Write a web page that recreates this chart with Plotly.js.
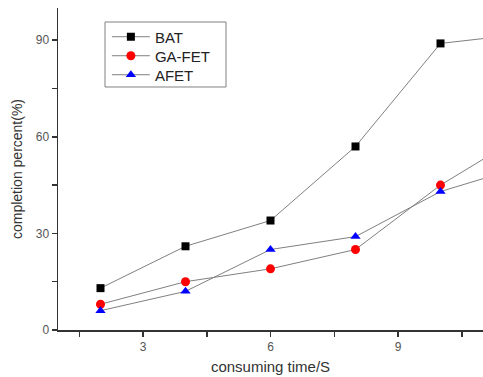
<!DOCTYPE html>
<html>
<head>
<meta charset="utf-8">
<script src="https://cdn.plot.ly/plotly-3.0.1.min.js"></script>
<style>html,body{margin:0;padding:0;background:#fff;}#chart{width:483px;height:377px;}</style>
</head>
<body>
<div id="chart"></div>
<script>
const xValues = [2, 4, 6, 8, 10, 12];
const batValues = [13, 26, 34, 57, 89, 92];
const gaFetValues = [8, 15, 19, 25, 45, 61];
const afetValues = [6, 12, 25, 29, 43, 51];
const seriesNames = ["BAT", "GA-FET", "AFET"];
const xTickVals = [3, 6, 9];
const yTickVals = [0, 30, 60, 90];

const lineStyle = {color: "#808080", width: 1};
const traces = [
  {x: xValues, y: batValues, name: seriesNames[0], mode: "lines+markers", line: lineStyle, legend: "legend",
   marker: {symbol: "square", size: 8, color: "#000000"}},
  {x: xValues, y: gaFetValues, name: seriesNames[1], mode: "lines+markers", line: lineStyle, legend: "legend2",
   marker: {symbol: "circle", size: 9, color: "#ff0000"}},
  {x: xValues, y: afetValues, name: seriesNames[2], mode: "lines+markers", line: lineStyle, legend: "legend3",
   marker: {symbol: "triangle-up", size: 9, color: "#0000ff"}}
];

const legendFont = {family: "Liberation Sans, Arial, sans-serif", size: 15, color: "#222"};
function legendAt(yPaper) {
  return {x: 0.115, y: yPaper, xanchor: "left", yanchor: "middle", borderwidth: 0,
    bgcolor: "rgba(0,0,0,0)", itemwidth: 38, font: legendFont};
}
const axisFont = {family: "Liberation Sans, Arial, sans-serif", size: 12, color: "#555"};
const layout = {
  width: 483, height: 377,
  margin: {l: 58, r: 0, t: 8, b: 47},
  paper_bgcolor: "#fff", plot_bgcolor: "#fff",
  showlegend: true,
  legend: legendAt(0.910),
  legend2: legendAt(0.851),
  legend3: legendAt(0.792),
  shapes: [{type: "rect", xref: "paper", yref: "paper", x0: 0.1106, x1: 0.3953, y0: 0.7547, y1: 0.9565,
    line: {color: "#808080", width: 1}, fillcolor: "rgba(0,0,0,0)", layer: "below"}],
  xaxis: {range: [1, 11], tickvals: xTickVals, ticks: "outside", ticklen: 5, tickwidth: 1.5,
    tickcolor: "#333", showline: true, linecolor: "#333", linewidth: 1.5, showgrid: false,
    zeroline: false, tickfont: axisFont,
    minor: {tickvals: [1.5, 4.5, 7.5, 10.5], ticks: "outside", ticklen: 5, tickwidth: 1.5, tickcolor: "#333", showgrid: false},
    title: {text: "consuming time/S", font: {family: "Liberation Sans, Arial, sans-serif", size: 15, color: "#333"}, standoff: 8}},
  yaxis: {range: [0, 100], tickvals: yTickVals, ticks: "outside", ticklen: 5, tickwidth: 1.5,
    tickcolor: "#333", showline: true, linecolor: "#333", linewidth: 1.5, showgrid: false,
    zeroline: false, tickfont: axisFont,
    minor: {tickvals: [15, 45, 75], ticks: "outside", ticklen: 5, tickwidth: 1.5, tickcolor: "#333", showgrid: false},
    title: {text: "completion percent(%)", font: {family: "Liberation Sans, Arial, sans-serif", size: 14, color: "#333"}, standoff: 10}}
};
Plotly.newPlot("chart", traces, layout, {staticPlot: true, displayModeBar: false});
</script>
</body>
</html>
